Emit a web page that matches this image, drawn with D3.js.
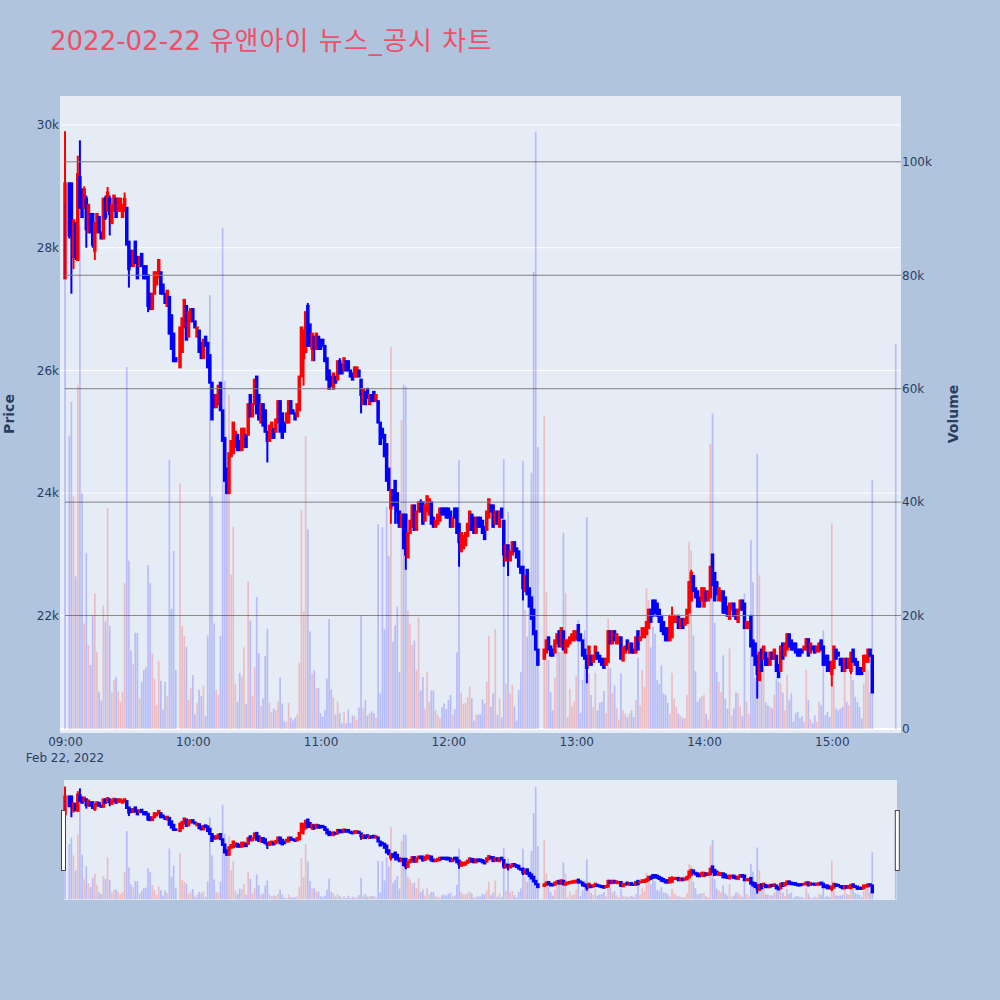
<!DOCTYPE html>
<html>
<head>
<meta charset="utf-8">
<script src="https://d3js.org/d3.v7.min.js"></script>
<style>
    html, body { margin: 0; padding: 0; background: #b0c4de; }
    svg { display: block; }
    text { font-family: "DejaVu Sans", "Noto Sans CJK KR", sans-serif; }
    .axis text { font-size: 12px; fill: #2a3f5f; }
    .axisLabel { font-size: 14px; font-weight: bold; fill: #2a3f5f; }
</style>
</head>
<body>
<div id="chart"></div>
<script>
/* one row per 10 minutes of trading, null = no trade in that minute */
const opens = [
27500,null,29050,29050,27850,28400,27800,29150,28950,28650,
28800,28250,28550,28550,27950,28250,28500,28250,28150,28800,
28600,28800,28400,28600,28800,28600,28600,28500,28600,28650,
28100,27950,27700,28100,27850,27700,27900,27700,27700,27550,
27250,27000,27250,27400,27600,27600,27400,27250,27050,27200,
26900,26600,26200,null,26050,26300,26700,27050,26550,26800,
27000,26800,26550,26650,26450,26200,26550,26450,26250,25800,
25600,25400,25450,25800,25350,24900,24400,24000,24600,24650,
24750,24950,24850,24700,24750,24950,24950,25600,25250,25450,
25900,25600,25150,25450,25350,25000,24850,24900,25050,25000,
25150,25500,25300,25150,25150,25150,25500,25350,25300,25250,
25350,25900,26200,26300,27050,26750,26350,26550,26350,26550,
26500,26500,26400,26200,26000,25900,25700,25900,25850,26150,
26100,26000,26150,26150,26000,25950,25900,25900,26000,25850,
25450,25650,25700,25450,25600,25650,25500,25500,25150,25050,
24950,24800,24400,23750,24050,24200,24000,23700,23450,23650,
23650,22950,23350,23450,23800,23400,23700,23850,23850,23550,
23700,23650,23850,23600,23450,23500,23550,23750,23750,23750,
23750,23700,23450,23750,23750,23500,23050,23100,23150,23300,
23400,23650,23600,23350,23600,23600,23550,23450,23400,23600,
23800,23800,23500,23700,23450,23750,23550,22900,23150,22900,
23000,23200,23100,23050,22800,22800,22400,22750,22450,22300,
22100,21750,21450,null,null,21300,21400,21650,21500,21450,
21400,21550,21750,21500,21750,21400,21500,21550,21600,21600,
21620,21850,21700,21600,21450,21350,21200,21350,21250,21300,
21400,21350,21300,21300,21200,21250,21750,21550,21750,21550,
21550,21650,21270,21400,21600,21400,21550,21450,21400,21750,
21600,21650,21650,21700,21800,22100,22250,22250,22200,22100,
22000,21900,21800,21800,21600,21650,21900,21900,22000,21800,
21950,21850,21880,22050,22250,22650,22450,22400,22300,22250,
22150,22400,22250,22300,23000,22700,22550,22250,22250,22400,
22300,22150,21950,22100,22200,22100,21900,22100,22250,22200,
21800,21800,22000,21600,21550,21350,20950,21450,21300,21400,
21300,21200,21400,21300,21350,21200,21100,21550,21350,21450,
21700,21600,21550,21550,21450,21450,21450,21450,21450,21620,
21400,21500,21500,21420,21420,21600,21500,21350,21350,21250,
21050,21150,21450,21400,21300,21300,21100,21300,21150,21100,
21450,21300,21250,21150,21150,21100,21250,21250,21450,21350,
20850];

const closes = [
29050,null,28200,28250,28450,27850,29200,28650,28500,28950,
28300,28700,28250,28050,28400,28550,28250,28150,28800,28500,
28900,28550,28700,28850,28500,28800,28800,28700,28800,28050,
27650,27700,27950,27750,27500,27850,27700,27500,27500,27050,
27000,27250,27600,27600,27800,27250,27250,27100,27300,26600,
26350,26150,26150,null,26700,26850,27150,26500,26950,27000,
26800,26700,26700,26300,26200,26500,26400,26050,25800,25200,
25400,25600,25750,25350,24850,24200,24000,24650,24850,25150,
25000,24700,24700,25050,25050,24750,25450,25250,25450,25850,
25300,25200,25450,25100,25000,24850,25100,25150,24900,25200,
25500,25000,24900,25000,25300,25500,25300,25300,25200,25450,
25900,26700,26650,26950,26400,26400,26600,26350,26600,26350,
26350,26400,26150,25850,25700,25750,25950,25800,26150,25950,
25950,26200,26000,26000,25900,25850,26050,26050,25900,25600,
25700,25450,25550,25600,25500,25500,25600,25150,24800,24900,
24600,24200,24050,24050,23800,23850,23700,23450,23650,23100,
23000,23350,23550,23800,23400,23700,23850,23700,23500,23800,
23950,23900,23500,23450,23550,23650,23750,23650,23650,23600,
23600,23450,23600,23600,23350,23200,23350,23300,23350,23500,
23700,23400,23350,23600,23450,23450,23350,23250,23700,23900,
23700,23450,23700,23500,23700,23600,23000,23150,22950,23050,
23200,23050,22950,22800,22700,22450,22650,22350,22150,21950,
21700,21450,21200,null,null,21450,21600,21450,21350,21350,
21600,21700,21500,21800,21450,21600,21600,21650,21700,21750,
21750,21600,21600,21350,21300,21150,21500,21200,21350,21500,
21300,21250,21200,21150,21300,21750,21550,21750,21600,21700,
21650,21300,21480,21500,21450,21550,21400,21400,21650,21450,
21650,21800,21800,21900,22100,21900,22000,22050,22000,21900,
21750,21700,21600,21600,22000,21950,22000,22000,21800,21950,
21800,21950,22100,22550,22700,22400,22300,22150,22150,22450,
22450,22250,22400,22800,22500,22250,22350,22450,22400,22050,
22050,22000,22200,22200,22000,21950,22100,22250,22100,21800,
21900,21900,21500,21350,21200,21050,21400,21100,21500,21200,
21200,21400,21300,21450,21100,21000,21500,21300,21550,21700,
21500,21450,21450,21400,21350,21350,21400,21500,21620,21350,
21550,21450,21400,21500,21550,21450,21200,21200,21100,21100,
21250,21500,21300,21350,21200,21100,21300,21150,21300,21400,
21250,21200,21050,21050,21050,21350,21350,21450,21350,20750,
20850];

const highs = [
29900,null,29050,29050,28450,28400,29500,29750,28950,29000,
28850,28700,28550,28550,28400,28550,28500,28250,28800,28850,
28990,28850,28700,28850,28800,28800,28800,28700,28900,28650,
28100,27950,27950,28100,27850,27850,27900,27700,27700,27550,
27250,27250,27600,27600,27800,27600,27400,27250,27300,27200,
26900,26600,26200,null,26700,26850,27150,27050,26950,27000,
27000,26800,26700,26650,26450,26500,26550,26450,26250,25800,
25600,25600,25750,25800,25350,24900,24400,24650,24850,25150,
25000,24950,24850,25050,25050,24950,25450,25600,25450,25850,
25900,25600,25450,25450,25350,25000,25100,25150,25050,25200,
25500,25500,25300,25150,25300,25500,25500,25350,25300,25450,
25900,26700,26650,26950,27100,26750,26600,26550,26600,26550,
26500,26500,26400,26200,26000,25900,25950,25900,26150,26200,
26100,26200,26150,26150,26000,25950,26050,26050,26000,25850,
25700,25650,25700,25600,25600,25650,25600,25500,25150,25050,
24950,24800,24400,24050,24050,24200,24000,23700,23650,23650,
23650,23350,23550,23800,23800,23700,23850,23900,23850,23800,
23950,23900,23850,23600,23550,23650,23750,23750,23750,23750,
23750,23700,23600,23750,23750,23500,23350,23300,23350,23500,
23700,23650,23600,23600,23600,23600,23550,23450,23700,23900,
23800,23800,23700,23700,23700,23750,23550,23150,23150,23050,
23200,23200,23100,23050,22800,22800,22650,22750,22450,22300,
22100,21750,21450,null,null,21450,21600,21650,21500,21450,
21600,21700,21750,21800,21750,21600,21600,21650,21700,21750,
21750,21850,21700,21600,21450,21350,21500,21350,21350,21500,
21400,21350,21300,21300,21300,21750,21750,21750,21750,21700,
21650,21650,21480,21500,21600,21550,21550,21450,21650,21750,
21650,21800,21800,21900,22100,22100,22250,22250,22200,22100,
22000,21900,21800,21800,22000,22150,22000,22000,22000,21950,
21950,21950,22100,22550,22750,22650,22450,22400,22300,22450,
22450,22400,22400,22800,23000,22700,22550,22450,22400,22400,
22300,22150,22200,22200,22200,22100,22100,22250,22250,22200,
21900,21900,22000,21600,21550,21350,21400,21450,21500,21400,
21300,21400,21400,21450,21350,21200,21500,21550,21550,21700,
21700,21600,21550,21550,21450,21450,21450,21500,21620,21620,
21550,21500,21500,21500,21550,21600,21500,21350,21350,21250,
21250,21500,21450,21400,21300,21300,21300,21300,21300,21400,
21450,21300,21250,21150,21150,21350,21350,21450,21450,21350,
20850];

const lows = [
27500,null,28150,27250,27650,27800,27800,28650,28500,28650,
28000,28250,28250,28000,27800,28250,28250,28150,28150,28450,
28600,28200,28400,28600,28500,28600,28600,28500,28600,28050,
27350,27700,27700,27750,27500,27700,27700,27500,27500,26950,
27000,27000,27250,27400,27500,27250,27250,27100,27050,26600,
26350,26150,26150,null,26050,26300,26700,26500,26550,26800,
26800,26700,26550,26300,26200,26200,26400,26050,25800,25200,
25400,25400,25450,25350,24850,24200,24000,24000,24600,24650,
24750,24700,24700,24700,24750,24750,24950,25250,25250,25450,
25300,25200,25150,25100,25000,24500,24850,24900,24900,25000,
25150,25000,24900,25000,25150,25150,25300,25300,25200,25250,
25350,25900,25750,26300,26400,26400,26150,26150,26350,26350,
26350,26400,26150,25850,25700,25750,25700,25800,25850,25950,
25950,26000,26000,26000,25900,25850,25900,25900,25900,25300,
25450,25450,25550,25450,25500,25500,25500,25150,24800,24900,
24600,24200,24050,23500,23800,23500,23500,23450,23450,23100,
22750,22950,23350,23450,23400,23400,23700,23700,23500,23550,
23700,23650,23500,23450,23450,23500,23550,23650,23650,23600,
23600,23450,23450,23600,23350,22800,23050,23100,23150,23300,
23400,23400,23350,23350,23450,23450,23350,23250,23400,23600,
23700,23450,23500,23500,23450,23600,22800,22900,22650,22900,
23000,23050,22950,22800,22700,22250,22400,22350,22150,21950,
21700,21450,21200,null,null,21300,21400,21450,21350,21350,
21400,21550,21500,21500,21450,21400,21500,21550,21600,21600,
21620,21600,21600,21350,21300,20900,21200,21200,21250,21300,
21300,21250,21200,21150,21200,21250,21550,21550,21600,21550,
21550,21300,21270,21400,21450,21400,21400,21400,21400,21450,
21600,21650,21650,21700,21800,21900,22000,22050,22000,21900,
21750,21700,21600,21600,21600,21650,21900,21900,21800,21800,
21800,21850,21880,22050,22250,22400,22300,22150,22150,22250,
22150,22250,22250,22300,22500,22250,22350,22250,22250,22050,
22050,22000,21950,22100,22000,21950,21900,22100,22100,21800,
21800,21800,21500,21350,21200,20650,20950,21100,21300,21200,
21200,21200,21300,21300,21100,21000,21100,21300,21350,21450,
21500,21450,21450,21400,21350,21350,21400,21450,21450,21350,
21400,21450,21400,21420,21420,21450,21200,21200,21100,21100,
20850,21150,21300,21350,21200,21100,21100,21150,21150,21050,
21250,21200,21050,21050,21050,21100,21250,21250,21350,20750,
20850];

const volumes = [
92800,0,51700,57700,41000,26900,60600,88600,41600,18600,
31000,14800,11300,20000,23900,13600,6600,5000,21700,19000,
39000,18200,6400,8700,9200,6600,4800,6600,25700,63800,
29700,13800,11400,17000,16900,5400,8300,10400,10900,28900,
25700,13300,8800,4200,12000,8500,3400,8300,5800,47500,
21200,31400,10400,0,43300,18200,16400,14500,5100,7200,
9500,2600,4600,6900,5800,7600,2300,16500,76500,41000,
18600,6900,6000,16400,88400,61400,41600,58900,27200,35600,
8000,4800,9900,9300,14400,4400,26000,19100,5800,10900,
23300,13400,4100,5400,12900,17700,4600,3000,3600,3300,
4800,9100,4500,1300,1300,4600,2000,1500,2000,2600,
11700,38700,20700,51600,35200,17200,9800,10400,7200,7200,
2800,2200,3300,8900,19400,7000,5600,2600,4800,2800,
1000,3000,1000,3400,1100,2400,2300,1600,3800,20000,
3600,5100,2400,2800,3100,2800,1900,36100,6300,35600,
17600,39200,30500,67400,15400,18300,21600,10000,54500,60700,
60400,20900,18600,14800,15600,10400,19700,6800,9200,3600,
10100,4800,6800,6800,3300,2500,1900,3800,4500,3500,
5100,6000,2500,3500,13500,47400,6400,4500,4600,5600,
7500,5400,1500,2500,2600,2600,5200,4500,8300,16400,
3900,6300,17600,2500,5400,2000,47600,8000,38300,6300,
7800,4000,1500,6900,10100,47300,21000,16300,25000,45200,
80600,105300,49700,0,0,55200,24200,12200,6500,3300,
9100,13600,13600,13600,34600,24000,2100,7100,4000,4800,
9300,19200,2800,8600,17400,37400,9800,6000,3900,9900,
3300,4600,4800,6700,2800,19500,10700,6400,7700,3700,
1700,9800,3300,2700,2100,2700,3300,2100,5100,12600,
4200,10400,7400,24800,22700,14400,18000,16800,8700,8000,
11200,6300,6000,4600,2700,9900,5400,3900,2700,2300,
1900,1900,6000,33000,31500,16500,10200,4800,5400,5800,
6000,2700,1700,50300,55600,18700,10000,8300,6500,13000,
5400,3600,14200,2400,3600,6400,6300,4000,2300,23900,
4900,2700,33300,25900,9000,48500,27100,14500,10700,4700,
4200,3900,3600,6100,8900,8300,8100,6400,3300,9500,
5100,6300,1300,2800,3000,1900,2300,1300,10400,5100,
1700,1000,2400,1300,4800,4200,17400,2400,3000,2100,
36200,7700,3600,3300,3600,3900,10100,4800,4200,9800,
8600,5700,4800,3900,1900,8000,10000,10400,6300,43900,
67900];

const timeLabels = ["09:00","10:00","11:00","12:00","13:00","14:00","15:00"];
const priceTicks = [22000,24000,26000,28000,30000];
const volumeTicks = [0,20000,40000,60000,80000,100000];

const width = 1000;
const height = 1000;
const plot = {left: 60, right: 901, top: 96, bottom: 733};
const slider = {left: 64, right: 897, top: 780, bottom: 900};

const parseTime = d3.timeParse("%Y-%m-%d %H:%M");
const startTime = parseTime("2022-02-22 09:00");

/* minutes after 09:00: 0..379, then the closing auction at 15:30 */
const candles = opens.map(function(o, i) {
    const minute = i < 380 ? i : 390;
    return {
        time: d3.timeMinute.offset(startTime, minute),
        open: o, high: highs[i], low: lows[i], close: closes[i],
        volume: volumes[i], first: i === 0
    };
}).filter(function(d) { return d.open !== null; });

const svg = d3.select("#chart")
    .append("svg")
    .attr("width", width)
    .attr("height", height);

svg.append("rect")
    .attr("width", width)
    .attr("height", height)
    .attr("fill", "#b0c4de");

/* SCALES */
const xScale = d3.scaleTime()
    .domain([startTime, d3.timeMinute.offset(startTime, 390)])
    .range([65, 895.7]);

const priceDomain = [20090, 30473];
const volumeDomain = [-700, 111600];

const yPrice = d3.scaleLinear().domain(priceDomain).range([plot.bottom, plot.top]);
const yVolume = d3.scaleLinear().domain(volumeDomain).range([plot.bottom, plot.top]);
const yPriceSlider = d3.scaleLinear().domain(priceDomain).range([slider.bottom, slider.top]);
const yVolumeSlider = d3.scaleLinear().domain(volumeDomain).range([slider.bottom, slider.top]);

function isUp(d) { return d.close > d.open; }

function drawCandles(group, y) {
    const marks = group.selectAll("g.candle")
        .data(candles)
        .enter()
        .append("g")
        .attr("class", "candle")
        .attr("stroke", function(d) { return isUp(d) ? "#ff0000" : "#0000ff"; })
        .attr("fill", function(d) { return isUp(d) ? "#ff0000" : "#0000ff"; });

    marks.append("line")
        .attr("x1", function(d) { return xScale(d.time); })
        .attr("x2", function(d) { return xScale(d.time); })
        .attr("y1", function(d) { return y(d.high); })
        .attr("y2", function(d) { return y(d.low); })
        .attr("stroke-width", 2);

    marks.append("rect")
        .attr("x", function(d) { return xScale(d.time) - 0.75; })
        .attr("width", 1.5)
        .attr("y", function(d) { return y(Math.max(d.open, d.close)); })
        .attr("height", function(d) { return Math.abs(y(d.open) - y(d.close)); })
        .attr("stroke-width", 2);
}

function drawBars(group, y) {
    group.selectAll("rect.bar")
        .data(candles)
        .enter()
        .append("rect")
        .attr("class", "bar")
        .attr("x", function(d) { return xScale(d.time) - 0.85; })
        .attr("width", 1.7)
        .attr("y", function(d) { return y(d.volume); })
        .attr("height", function(d) { return y(0) - y(d.volume); })
        .attr("fill", function(d) { return isUp(d) && !d.first ? "#ff0000" : "#0000ff"; })
        .attr("fill-opacity", 0.2);
}

/* MAIN PLOT */
svg.append("rect")
    .attr("x", plot.left)
    .attr("y", plot.top)
    .attr("width", plot.right - plot.left)
    .attr("height", plot.bottom - plot.top)
    .attr("fill", "#e5ecf6");

svg.selectAll("line.priceGrid")
    .data(priceTicks)
    .enter()
    .append("line")
    .attr("class", "priceGrid")
    .attr("x1", plot.left)
    .attr("x2", plot.right)
    .attr("y1", function(d) { return yPrice(d); })
    .attr("y2", function(d) { return yPrice(d); })
    .attr("stroke", "#ffffff")
    .attr("stroke-width", 1);

drawCandles(svg.append("g"), yPrice);

svg.selectAll("line.volumeGrid")
    .data(volumeTicks.slice(1))
    .enter()
    .append("line")
    .attr("class", "volumeGrid")
    .attr("x1", plot.left + 5)
    .attr("x2", plot.right)
    .attr("y1", function(d) { return yVolume(d); })
    .attr("y2", function(d) { return yVolume(d); })
    .attr("stroke", "#808080")
    .attr("stroke-width", 1);

svg.append("line")
    .attr("x1", plot.left)
    .attr("x2", plot.right)
    .attr("y1", yVolume(0))
    .attr("y2", yVolume(0))
    .attr("stroke", "#ffffff")
    .attr("stroke-width", 2);

drawBars(svg.append("g"), yVolume);

/* AXES */
const leftAxis = svg.append("g")
    .attr("class", "axis")
    .attr("transform", `translate(${plot.left},0)`)
    .call(d3.axisLeft(yPrice).tickValues(priceTicks).tickSize(0).tickPadding(1).tickFormat(d3.format("~s")));

const rightAxis = svg.append("g")
    .attr("class", "axis")
    .attr("transform", `translate(${plot.right},0)`)
    .call(d3.axisRight(yVolume).tickValues(volumeTicks).tickSize(0).tickPadding(1).tickFormat(d3.format("~s")));

const tickTimes = timeLabels.map(function(t) { return parseTime("2022-02-22 " + t); });

const bottomAxis = svg.append("g")
    .attr("class", "axis")
    .attr("transform", `translate(0,${plot.bottom})`)
    .call(d3.axisBottom(xScale).tickValues(tickTimes).tickSize(0).tickPadding(4).tickFormat(d3.timeFormat("%H:%M")));

leftAxis.select(".domain").remove();
rightAxis.select(".domain").remove();
bottomAxis.select(".domain").remove();

svg.append("text")
    .attr("x", xScale(startTime))
    .attr("y", 762)
    .attr("text-anchor", "middle")
    .attr("font-size", 12)
    .attr("fill", "#2a3f5f")
    .text("Feb 22, 2022");

svg.append("text")
    .attr("class", "axisLabel")
    .attr("transform", "rotate(-90)")
    .attr("x", -414)
    .attr("y", 14)
    .attr("text-anchor", "middle")
    .text("Price");

svg.append("text")
    .attr("class", "axisLabel")
    .attr("transform", "rotate(-90)")
    .attr("x", -414)
    .attr("y", 958)
    .attr("text-anchor", "middle")
    .text("Volume");

/* hangul falls back to a narrower font here, so it gets a little extra spacing */
const title = svg.append("text")
    .attr("x", 50)
    .attr("y", 50)
    .attr("font-size", 26)
    .attr("fill", "#ef4f68");

title.append("tspan").text("2022-02-22 ");
title.append("tspan")
    .attr("letter-spacing", 1.1)
    .text("유앤아이 뉴스_공시 차트");

/* RANGE SLIDER */
svg.append("rect")
    .attr("x", slider.left)
    .attr("y", slider.top)
    .attr("width", slider.right - slider.left)
    .attr("height", slider.bottom - slider.top)
    .attr("fill", "#e5ecf6");

drawCandles(svg.append("g"), yPriceSlider);
drawBars(svg.append("g"), yVolumeSlider);

[63.5, 897.3].forEach(function(x) {
    svg.append("rect")
        .attr("x", x - 2)
        .attr("y", 810.5)
        .attr("width", 4)
        .attr("height", 60)
        .attr("fill", "#ffffff")
        .attr("stroke", "#444444")
        .attr("stroke-width", 1);
});
</script>
</body>
</html>
